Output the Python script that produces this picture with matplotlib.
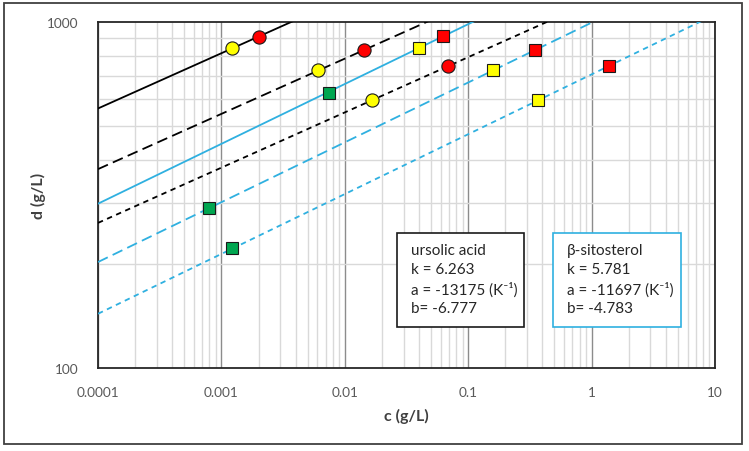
import numpy as np
import matplotlib
matplotlib.use("Agg")
import matplotlib.pyplot as plt
from matplotlib.patches import Rectangle
from matplotlib.ticker import FixedLocator, FixedFormatter, LogLocator, NullFormatter

plt.rcParams['font.family'] = ['Lato', 'DejaVu Sans']

# Chrastil parameters (from text boxes)
ua_k, ua_a, ua_b = 6.263, -13175, -6.777
bs_k, bs_a, bs_b = 5.781, -11697, -4.783
temps_K = [313, 333, 353]

# ursolic acid data (circles)
ua_yellow_c = [0.00123, 0.0061, 0.0167]
ua_yellow_d = [839, 725, 594]
ua_red_c = [0.00203, 0.0143, 0.069]
ua_red_d = [907, 830, 745]

# beta-sitosterol data (squares)
bs_yellow_c = [0.0397, 0.158, 0.370]
bs_yellow_d = [839, 725, 594]
bs_red_c = [0.0628, 0.350, 1.375]
bs_red_d = [911, 830, 745]
bs_green_c = [0.00745, 0.00080, 0.00123]
bs_green_d = [625, 290, 222]

x_ticks = [0.0001, 0.001, 0.01, 0.1, 1, 10]
x_tick_labels = ['0.0001', '0.001', '0.01', '0.1', '1', '10']
y_ticks = [100, 1000]
y_tick_labels = ['100', '1000']

BLUE = '#2FB0E0'
styles = ['-', (0, (6, 3)), (0, (3, 2.5))]

fig = plt.figure(figsize=(7.49, 4.52), dpi=100)
ax = fig.add_axes([98/749, 1-369/452, 617/749, 346/452])

def chrastil_d(c, k, a, b, T):
    return np.exp((np.log(c) - a / T - b) / k)

cgrid = np.logspace(-4, 1, 400)
for T, ls in zip(temps_K, styles):
    ax.plot(cgrid, chrastil_d(cgrid, ua_k, ua_a, ua_b, T), color='black', lw=1.3, ls=ls, zorder=3)
    ax.plot(cgrid, chrastil_d(cgrid, bs_k, bs_a, bs_b, T), color=BLUE, lw=1.3, ls=ls, zorder=3)

mk = dict(markeredgecolor='#1a1a1a', markeredgewidth=0.8, ls='none', zorder=5)
ax.plot(ua_yellow_c, ua_yellow_d, 'o', color='#FFFF00', markersize=9.5, **mk)
ax.plot(ua_red_c, ua_red_d, 'o', color='#FF0000', markersize=9.5, **mk)
ax.plot(bs_yellow_c, bs_yellow_d, 's', color='#FFFF00', markersize=8.8, **mk)
ax.plot(bs_red_c, bs_red_d, 's', color='#FF0000', markersize=8.8, **mk)
ax.plot(bs_green_c, bs_green_d, 's', color='#00A650', markersize=8.8, **mk)

ax.set_xscale('log')
ax.set_yscale('log')
ax.set_xlim(1e-4, 10)
ax.set_ylim(100, 1000)

ax.xaxis.set_major_locator(FixedLocator(x_ticks))
ax.xaxis.set_major_formatter(FixedFormatter(x_tick_labels))
ax.xaxis.set_minor_locator(LogLocator(base=10, subs=np.arange(2, 10)))
ax.xaxis.set_minor_formatter(NullFormatter())
ax.yaxis.set_major_locator(FixedLocator(y_ticks))
ax.yaxis.set_major_formatter(FixedFormatter(y_tick_labels))
ax.yaxis.set_minor_locator(LogLocator(base=10, subs=np.arange(2, 10)))
ax.yaxis.set_minor_formatter(NullFormatter())

ax.grid(which='minor', color='#D9D9D9', lw=1.0, zorder=0)
ax.grid(which='major', axis='x', color='#8C8C8C', lw=1.0, zorder=1)
ax.set_axisbelow(True)
ax.tick_params(which='both', length=0)
ax.tick_params(axis='x', pad=13, labelsize=9.8, labelcolor='#595959')
ax.tick_params(axis='y', pad=14, labelsize=9.8, labelcolor='#595959')
for s in ax.spines.values():
    s.set_color('#262626')
    s.set_linewidth(1.3)

ax.set_xlabel('c (g/L)', fontsize=11.5, fontweight='bold', color='#404040')
ax.set_ylabel('d (g/L)', fontsize=11.5, fontweight='bold', color='#404040')
ax.xaxis.set_label_coords(0.5, -(416-369)/346)
ax.yaxis.set_label_coords(-(98-38)/617, 0.5)
ax.xaxis.label.set_va('center')
ax.yaxis.label.set_va('center')

# text boxes (axes fraction coordinates)
def box(x0, x1, color, lines, tx):
    y0, y1 = (369-328)/346, (369-234)/346
    ax.add_patch(Rectangle((x0, y0), x1-x0, y1-y0, transform=ax.transAxes,
                           facecolor='white', edgecolor=color, lw=1.2, zorder=6))
    ys = [250.7, 270.3, 290.0, 308.7]
    for line, yp in zip(lines, ys):
        ax.text(tx, (369-yp)/346, line, transform=ax.transAxes, fontsize=11,
                color='#262626', va='center', ha='left', zorder=7)

box((397-98)/617, (524-98)/617, '#1a1a1a',
    ['ursolic acid', 'k = 6.263', 'a = -13175 (K\u207b\u00b9)', 'b= -6.777'], (410.7-98)/617)
box((553-98)/617, (681-98)/617, BLUE,
    ['β-sitosterol', 'k = 5.781', 'a = -11697 (K\u207b\u00b9)', 'b= -4.783'], (566.7-98)/617)

# outer frame
fig.add_artist(Rectangle((4/749, 1-445/452), 738/749, 441/452, transform=fig.transFigure,
                         facecolor='none', edgecolor='#404040', lw=1.3))

fig.savefig('out.png', dpi=100)
